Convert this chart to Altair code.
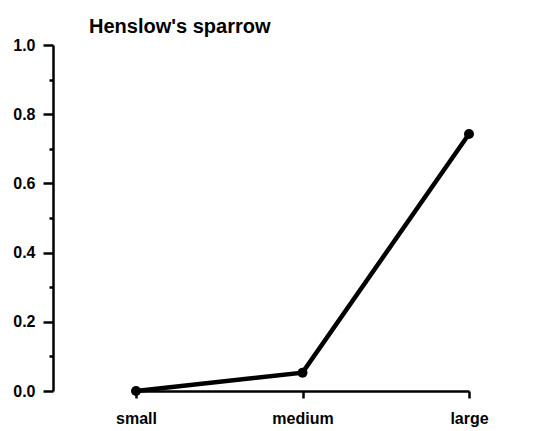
import altair as alt
import pandas as pd

categories = ["small", "medium", "large"]
values = [0.0, 0.053, 0.743]
minor_ticks = [0.1, 0.3, 0.5, 0.7, 0.9]
major_ticks = [0.0, 0.2, 0.4, 0.6, 0.8, 1.0]

df = pd.DataFrame({"size": categories, "value": values})

FONT = "Liberation Sans"

x_scale = alt.Scale(type="point", range=[83, 416], padding=0)
y_scale = alt.Scale(domain=[0, 1], nice=False, zero=True)

x_axis = alt.Axis(
    title=None, labelAngle=0, tickSize=7, tickWidth=2.5, domainWidth=2.5,
    domainColor="black", tickColor="black", labelColor="black",
    labelFont=FONT, labelFontSize=16, labelFontWeight="bold", labelPadding=12,
    grid=False,
)

base = alt.Chart(df)

line = base.mark_line(color="black", strokeWidth=4.5).encode(
    x=alt.X("size:N", sort=categories, scale=x_scale, axis=x_axis),
    y=alt.Y(
        "value:Q", scale=y_scale,
        axis=alt.Axis(
            title=None, orient="left", values=major_ticks, format=".1f",
            tickSize=10, tickWidth=2.5, domainWidth=2.5, domainColor="black",
            tickColor="black", labelColor="black", labelFont=FONT,
            labelFontSize=16, labelFontWeight="bold", labelPadding=8, grid=False,
        ),
    ),
)

points = base.mark_point(filled=True, color="black", size=100, opacity=1).encode(
    x=alt.X("size:N", sort=categories, scale=x_scale, axis=x_axis),
    y=alt.Y(
        "value:Q", scale=y_scale,
        axis=alt.Axis(
            title=None, orient="left", values=minor_ticks, labels=False,
            domain=False, tickSize=4, tickWidth=2.5, tickColor="black", grid=False,
        ),
    ),
)

chart = (
    alt.layer(line, points)
    .resolve_axis(y="independent")
    .properties(
        width=493,
        height=346,
        padding={"left": 45, "top": 37, "right": 0, "bottom": 40},
        autosize=alt.AutoSizeParams(type="none"),
        view=alt.ViewBackground(stroke="transparent", strokeWidth=0),
        title=alt.TitleParams(
            "Henslow's sparrow", anchor="start", frame="group", dx=36,
            offset=0, font=FONT, fontSize=20,
            fontWeight="bold", color="black",
        ),
    )
    .configure_view(stroke="transparent", strokeWidth=0, strokeOpacity=0)
    .configure_axis(grid=False, gridOpacity=0)
    .configure(background="white")
)

chart.save("out.html", embed_options={"renderer": "svg", "actions": False})
